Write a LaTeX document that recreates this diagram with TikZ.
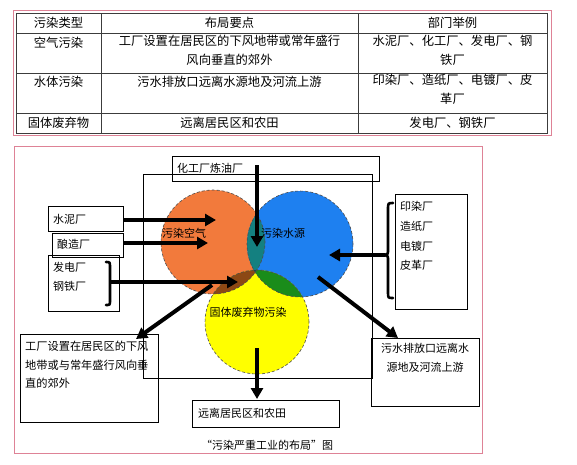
\documentclass[tikz,border=0pt]{standalone}
\usepackage{fontspec}
\setmainfont{Noto Sans CJK SC}
\usetikzlibrary{arrows.meta}
\definecolor{pinkline}{RGB}{222,130,150}
\definecolor{gridline}{RGB}{60,60,60}
\definecolor{corange}{RGB}{242,122,60}
\definecolor{cblue}{RGB}{30,128,240}
\definecolor{cyellow}{RGB}{255,255,0}
\definecolor{cteal}{RGB}{20,128,128}
\definecolor{cbrown}{RGB}{140,72,20}
\definecolor{cgreen}{RGB}{26,140,26}
\tikzset{
  tcell/.style={inner sep=0pt, align=center, font=\fontsize{12.3}{19}\selectfont},
  lbox/.style={draw=black, line width=0.9pt},
  lbl/.style={inner sep=0pt, anchor=west, font=\fontsize{11}{19}\selectfont},
  fat/.style={line width=4pt, -{Triangle[length=11pt,width=12pt]}},
  ring/.style={draw=black!70, densely dashed, line width=0.6pt},
  bracket/.style={line width=2.6pt, line cap=round}
}
\begin{document}
\begin{tikzpicture}[x=1pt,y=-1pt]
\useasboundingbox (0,0) rectangle (577,464);
\fill[white] (0,0) rectangle (577,464);
% ---------------- table ----------------
\draw[pinkline, line width=0.9pt] (13,10) rectangle (551,135);
\draw[gridline, line width=0.9pt] (16,13) rectangle (547,133);
\draw[gridline, line width=0.8pt] (16,33) -- (547,33) (16,73) -- (547,73) (16,113) -- (547,113)
  (101,13) -- (101,133) (358,13) -- (358,133);
\node[tcell] (h1) at (58.5,23) {污染类型};
\node[tcell] (h2) at (229.5,23) {布局要点};
\node[tcell] (h3) at (452.5,23) {部门举例};
\node[tcell] (r1a) at (58.5,43) {空气污染};
\node[tcell, anchor=north] (r1b) at (229.5,35) {工厂设置在居民区的下风地带或常年盛行\\风向垂直的郊外};
\node[tcell, anchor=north] (r1c) at (452.5,35) {水泥厂、化工厂、发电厂、钢\\铁厂};
\node[tcell] (r2a) at (58.5,82) {水体污染};
\node[tcell] (r2b) at (229.5,82) {污水排放口远离水源地及河流上游};
\node[tcell, anchor=north] (r2c) at (452.5,74) {印染厂、造纸厂、电镀厂、皮\\革厂};
\node[tcell] (r3a) at (58.5,123) {固体废弃物};
\node[tcell] (r3b) at (229.5,123) {远离居民区和农田};
\node[tcell] (r3c) at (452.5,123) {发电厂、钢铁厂};
% ---------------- diagram frame ----------------
\draw[pinkline, line width=0.9pt] (14,146) rectangle (482,453);
\draw[lbox] (143,174) rectangle (372,378);
% circles
\fill[corange] (213,242) circle[radius=52pt];
\fill[cblue] (300,244) circle[radius=53pt];
\fill[cyellow] (257,322) circle[radius=52pt];
\begin{scope}
  \clip (213,242) circle[radius=52pt];
  \fill[cteal] (300,244) circle[radius=53pt];
  \fill[cbrown] (257,322) circle[radius=52pt];
\end{scope}
\begin{scope}
  \clip (300,244) circle[radius=53pt];
  \fill[cgreen] (257,322) circle[radius=52pt];
  \clip (213,242) circle[radius=52pt];
  \fill[cteal!60!black] (257,322) circle[radius=52pt];
\end{scope}
\draw[ring] (213,242) circle[radius=52pt];
\draw[ring] (300,244) circle[radius=53pt];
\draw[ring] (257,322) circle[radius=52pt];
\node[lbl, anchor=center] (air) at (184,233) {污染空气};
\node[lbl, anchor=center] (water) at (283,233) {污染水源};
\node[lbl, anchor=center] (solid) at (248,312) {固体废弃物污染};
% boxes
\draw[lbox] (172,156) rectangle (379,181);
\node[lbl] (chem) at (177,168) {化工厂炼油厂};
\draw[lbox] (48,206) rectangle (123,231);
\node[lbl] (cement) at (53,219) {水泥厂};
\draw[lbox] (52,233) rectangle (123,257);
\node[lbl] (brew) at (57,244) {酿造厂};
\draw[lbox] (48,255) rectangle (119,311);
\node[lbl] (power) at (53,267) {发电厂};
\node[lbl] (steel) at (53,286) {钢铁厂};
\draw[lbox] (395,194) rectangle (467,309);
\node[lbl] (dye) at (400,206) {印染厂};
\node[lbl] (paper) at (400,226) {造纸厂};
\node[lbl] (plate) at (400,246) {电镀厂};
\node[lbl] (leather) at (400,265) {皮革厂};
\draw[lbox] (371,338) rectangle (479,406);
\node[lbl, anchor=north, align=center] (sewage) at (425,343) {污水排放口远离水\\源地及河流上游};
\draw[lbox] (192,400) rectangle (339,427);
\node[lbl] (farm) at (198,413) {远离居民区和农田};
\draw[lbox] (20,334) rectangle (158,422);
\node[lbl, anchor=north west, align=left, font=\fontsize{11.2}{18.5}\selectfont] (wind) at (25,341) {工厂设置在居民区的下风\\地带或与常年盛行风向垂\\直的郊外};
\node[inner sep=0pt, font=\fontsize{11}{13}\selectfont] (caption) at (267,445) {“污染严重工业的布局”图};
% arrow coordinates
\coordinate (chemS) at (257,165);
\coordinate (chemT) at (257,247);
\coordinate (cemS) at (124,220);
\coordinate (cemT) at (216,220);
\coordinate (brewS) at (124,243);
\coordinate (brewT) at (208,243);
\coordinate (powS) at (110,282);
\coordinate (powT) at (238,282);
\coordinate (windS) at (212,285);
\coordinate (windT) at (136,339);
\coordinate (sewS) at (318,277);
\coordinate (sewT) at (398,338);
\coordinate (farmS) at (257,348);
\coordinate (farmT) at (257,399);
\coordinate (braceM) at (385,255);
\coordinate (braceT) at (329,255);
\draw[fat] (chemS) -- (chemT);
\draw[fat] (cemS) -- (cemT);
\draw[fat] (brewS) -- (brewT);
\draw[fat] (powS) -- (powT);
\draw[fat] (windS) -- (windT);
\draw[fat] (sewS) -- (sewT);
\draw[fat] (farmS) -- (farmT);
\draw[fat] (braceM) -- (braceT);
% brackets
\draw[bracket] (106,262) .. controls (110,262) .. (110,268) -- (110,300) .. controls (110,305) .. (106,305);
\draw[bracket] (393,203) .. controls (388,203) .. (388,210) -- (388,249) .. controls (388,254) .. (385,255)
  .. controls (388,256) .. (388,261) -- (388,292) .. controls (388,298) .. (393,298);
\end{tikzpicture}
\end{document}
